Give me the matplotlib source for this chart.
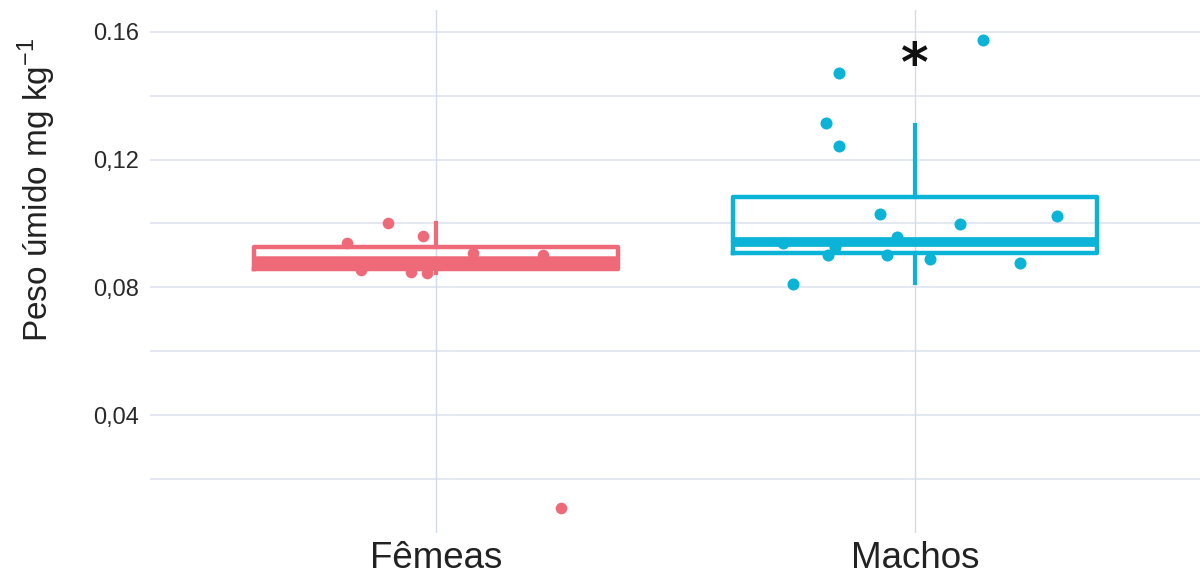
import matplotlib
matplotlib.use("Agg")
import matplotlib.pyplot as plt

# categorias e valores
categorias = ["Fêmeas", "Machos"]

femeas_valores = [0.0939, 0.1002, 0.0961, 0.0855, 0.0849, 0.0845, 0.0902, 0.0908, 0.0110]
femeas_jitter = [-0.186, -0.100, -0.027, -0.157, -0.052, -0.019, 0.223, 0.077, 0.261]

machos_valores = [0.1472, 0.1315, 0.1243, 0.1575, 0.1030, 0.0999, 0.1024, 0.0939,
                  0.0902, 0.0927, 0.0902, 0.0958, 0.0889, 0.0877, 0.0811]
machos_jitter = [-0.159, -0.186, -0.159, 0.142, -0.073, 0.094, 0.296, -0.276,
                 -0.182, -0.167, -0.058, -0.038, 0.031, 0.219, -0.255]

# estatísticas das caixas (q1, mediana, q3, bigodes)
femeas_caixa = [0.0857, 0.0880, 0.0927, 0.0845, 0.1002]
machos_caixa = [0.0908, 0.0943, 0.1083, 0.0814, 0.1309]

y_ticks = [0.04, 0.08, 0.12, 0.16]
y_tick_labels = ["0,04", "0,08", "0,12", "0.16"]
y_minor = [0.02, 0.06, 0.10, 0.14]

COR_F = "#EF6A79"
COR_M = "#0BB4D6"
GRID = "#E0E5F1"

plt.rcParams["font.family"] = ["Liberation Sans", "DejaVu Sans"]
plt.rcParams["mathtext.fontset"] = "custom"
plt.rcParams["mathtext.rm"] = "Liberation Sans"

fig = plt.figure(figsize=(12, 5.78), dpi=100)
fig.patch.set_facecolor("white")
ax = fig.add_axes([0.125, 0.078, 0.875, 0.905])

ax.set_xlim(-0.597, 1.595)
ax.set_ylim(0.0031, 0.1669)

# grade
for y in y_ticks + y_minor:
    ax.axhline(y, color=GRID, lw=1.3, zorder=0)
for x in range(len(categorias)):
    ax.axvline(x, color="#D3DAEC", lw=1.0, zorder=0)

med_lw = [9, 7]
for i, (stats, cor) in enumerate([(femeas_caixa, COR_F), (machos_caixa, COR_M)]):
    q1, med, q3, lo, hi = stats
    ax.bxp([{"q1": q1, "med": med, "q3": q3, "whislo": lo, "whishi": hi, "fliers": []}],
           positions=[i], widths=0.76, showcaps=False, showfliers=False,
           boxprops=dict(color=cor, lw=3.2),
           whiskerprops=dict(color=cor, lw=3.0),
           medianprops=dict(color=cor, lw=med_lw[i], solid_capstyle="butt"),
           manage_ticks=False, zorder=2)

ax.scatter([0 + j for j in femeas_jitter], femeas_valores, s=70, color=COR_F,
           linewidths=0, zorder=3)
ax.scatter([1 + j for j in machos_jitter], machos_valores, s=75, color=COR_M,
           linewidths=0, zorder=3)

ax.text(1, 0.1493, "*", ha="center", va="center", fontsize=38, fontweight="bold",
        family="DejaVu Sans", color="#111111")

ax.set_yticks(y_ticks)
ax.set_yticklabels(y_tick_labels, fontsize=17, color="#2a2a2a")
ax.set_xticks(range(len(categorias)))
ax.set_xticklabels(categorias, fontsize=26.5, color="#222222")
ax.tick_params(axis="y", length=0, pad=8)
ax.tick_params(axis="x", length=0, pad=6)
for s in ax.spines.values():
    s.set_visible(False)

fig.text(37 / 1200, 1 - 190 / 578, "Peso úmido mg kg$^{-1}$", rotation=90,
         ha="center", va="center", fontsize=24, color="#222222")

fig.savefig("out.png", dpi=100, facecolor="white")
